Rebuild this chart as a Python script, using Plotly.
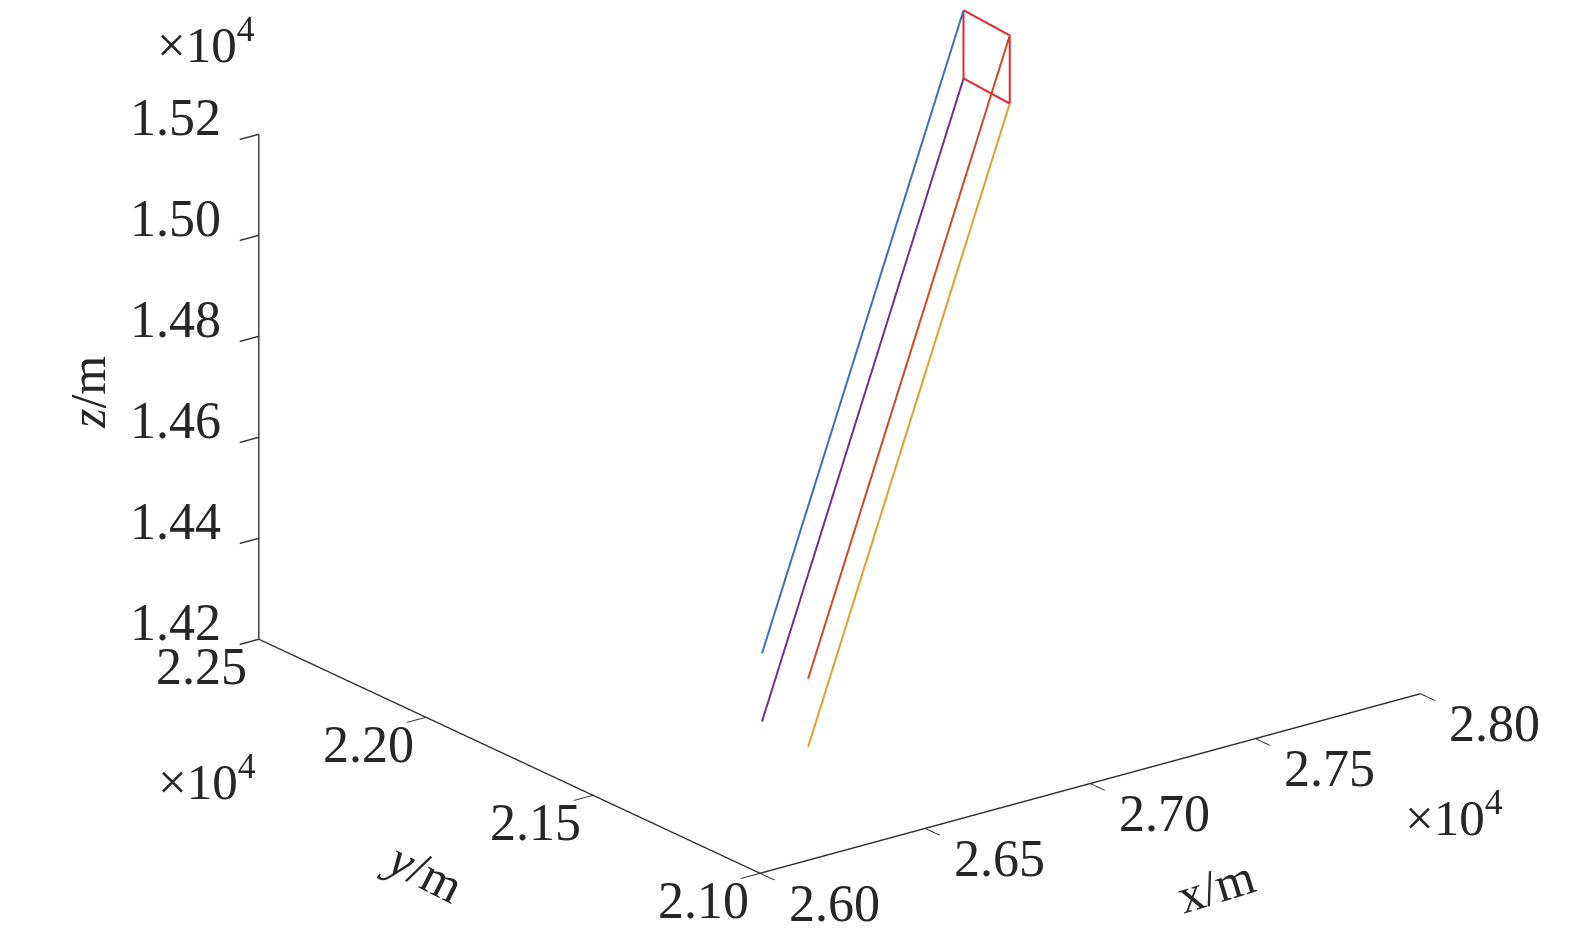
import plotly.graph_objects as go

# ---- data (metres) ----
series_names = ["UAV1", "UAV2", "UAV3", "UAV4"]
series_colors = ["#3A6FBF", "#70308F", "#CF4A22", "#E2A02E"]
x_start = [26615, 26615, 26600, 26600]
x_end = [27878, 27878, 27863, 27863]
y_start = [21602, 21602, 21449, 21449]
y_end = [22247, 22247, 22094, 22094]
z_start = [14340, 14205, 14340, 14205]
z_end = [15190, 15055, 15190, 15055]
# formation frame at the final position: order of vertices
frame_order = [0, 2, 3, 1, 0]

x_ticks = [26000, 26500, 27000, 27500, 28000]
x_ticktext = ["2.60", "2.65", "2.70", "2.75", "2.80"]
y_ticks = [21000, 21500, 22000, 22500]
y_ticktext = ["2.10", "2.15", "2.20", "2.25"]
z_ticks = [14200, 14400, 14600, 14800, 15000, 15200]
z_ticktext = ["1.42", "1.44", "1.46", "1.48", "1.50", "1.52"]
x_range = [26000, 28000]
y_range = [21000, 22500]
z_range = [14200, 15200]

FONT = "Liberation Serif, Times New Roman, serif"
AXC = "#303030"
TXT = "#262626"
FS = 52

fig = go.Figure()
for i, name in enumerate(series_names):
    fig.add_trace(go.Scatter3d(
        x=[x_start[i], x_end[i]], y=[y_start[i], y_end[i]], z=[z_start[i], z_end[i]],
        mode="lines", line=dict(color=series_colors[i], width=4), name=name,
        showlegend=False, hoverinfo="skip"))

fig.add_trace(go.Scatter3d(
    x=[x_end[k] for k in frame_order], y=[y_end[k] for k in frame_order],
    z=[z_end[k] for k in frame_order], mode="lines",
    line=dict(color="#E8242B", width=4), showlegend=False, hoverinfo="skip"))

def axis(rng, tv, ticks="inside"):
    return dict(
        title=dict(text=""), range=rng, tickvals=tv, autorange=False,
        showticklabels=False,
        showbackground=False, showgrid=False, zeroline=False,
        showline=True, linecolor=AXC, linewidth=3,
        ticks=ticks, ticklen=24, tickwidth=3, tickcolor=AXC,
        showspikes=False, mirror=False)

# tick labels as scene annotations attached to the axis edges
scene_ann = []
for v, t in zip(x_ticks, x_ticktext):
    scene_ann.append(dict(x=v, y=y_range[0], z=z_range[0], text=t, showarrow=False,
                          xanchor="center", yanchor="middle", xshift=74, yshift=-30,
                          font=dict(family=FONT, size=FS, color=TXT)))
for v, t in zip(y_ticks, y_ticktext):
    scene_ann.append(dict(x=x_range[0], y=v, z=z_range[0], text=t, showarrow=False,
                          xanchor="center", yanchor="middle", xshift=-57, yshift=-27,
                          font=dict(family=FONT, size=FS, color=TXT)))
for v, t in zip(z_ticks, z_ticktext):
    scene_ann.append(dict(x=x_range[0], y=y_range[1], z=v, text=t, showarrow=False,
                          xanchor="right", yanchor="middle", xshift=-36, yshift=17,
                          font=dict(family=FONT, size=FS, color=TXT)))

e = (-0.5666, -0.7426, 0.3562)
c = (-0.1039, 0.0191, -0.1255)
dist = 2.0
fig.update_layout(
    width=1575, height=938, paper_bgcolor="white", plot_bgcolor="white",
    margin=dict(l=0, r=0, t=0, b=0),
    scene=dict(
        domain=dict(x=[0, 1], y=[0, 1]),
        xaxis=axis(x_range, x_ticks),
        yaxis=axis(y_range, y_ticks),
        zaxis=axis(z_range, z_ticks, "outside"),
        aspectmode="manual", aspectratio=dict(x=1.7714, y=1.7617, z=1.1523),
        camera=dict(eye=dict(x=c[0]+e[0]*dist, y=c[1]+e[1]*dist, z=c[2]+e[2]*dist),
                    up=dict(x=0, y=0, z=1), center=dict(x=c[0], y=c[1], z=c[2]),
                    projection=dict(type="orthographic")),
        annotations=scene_ann,
    ),
)

def px_ann(text, px, py, angle=0, size=51):
    return dict(text=text, x=px/1575, y=1-py/938, xref="paper", yref="paper",
                showarrow=False, xanchor="center", yanchor="middle", textangle=angle,
                font=dict(family=FONT, size=size, color=TXT))

fig.update_layout(annotations=[
    px_ann("×10<sup>4</sup>", 198, 33),
    px_ann("×10<sup>4</sup>", 199, 770),
    px_ann("×10<sup>4</sup>", 1446, 806),
    px_ann("x/m", 1208, 878, -17, 50),
    px_ann("<i>y</i>/m", 416, 863, 27, 50),
    px_ann("<i>z</i>/m", 80, 385, -90, 50),
])
fig.write_html("out.html")
